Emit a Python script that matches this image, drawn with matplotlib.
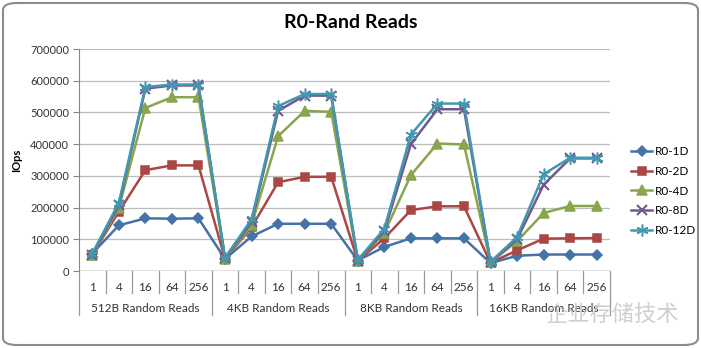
import numpy as np
import matplotlib.pyplot as plt
import matplotlib.transforms as mtransforms
from matplotlib.patches import FancyBboxPatch

plt.rcParams['font.family'] = ['Lato', 'DejaVu Sans']

groups = ["512B Random Reads", "4KB Random Reads", "8KB Random Reads", "16KB Random Reads"]
depths = ["1", "4", "16", "64", "256"]

r0_1d = [55000, 144000, 166000, 165000, 166000,
         38000, 109000, 149000, 149000, 149000,
         33000, 76000, 103000, 103000, 103000,
         25000, 48000, 52000, 52000, 52000]
r0_2d = [52000, 187000, 318000, 333000, 333000,
         38000, 138000, 280000, 297000, 297000,
         32000, 103000, 192000, 204000, 204000,
         26000, 65000, 102000, 103000, 104000]
r0_4d = [50000, 199000, 514000, 548000, 548000,
         38000, 145000, 425000, 505000, 502000,
         32000, 120000, 302000, 402000, 399000,
         27000, 94000, 183000, 205000, 205000]
r0_8d = [52000, 207000, 575000, 585000, 585000,
         40000, 155000, 505000, 553000, 553000,
         33000, 125000, 400000, 510000, 510000,
         27000, 100000, 272000, 355000, 355000]
r0_12d = [55000, 215000, 580000, 588000, 588000,
          42000, 163000, 520000, 558000, 558000,
          35000, 133000, 430000, 528000, 528000,
          29000, 107000, 305000, 357000, 357000]

series = [("R0-1D", r0_1d, "#4572A7", "D", 5.5),
          ("R0-2D", r0_2d, "#AA4643", "s", 6),
          ("R0-4D", r0_4d, "#89A54E", "^", 6.5),
          ("R0-8D", r0_8d, "#71588F", "x", 6.5),
          ("R0-12D", r0_12d, "#4198AF", (6, 2, 0), 8.5)]

fig = plt.figure(figsize=(7.01, 3.48), dpi=100)
W, H = 701, 348
ax = fig.add_axes([79 / W, 1 - 271 / H, (610 - 79) / W, (271 - 49) / H])

x = np.arange(len(r0_1d))
for name, vals, col, mk, ms in series:
    ax.plot(x, vals, color=col, lw=1.8, marker=mk, ms=ms, mew=1.5 if mk == "x" else 1.1,
            mec=col, mfc=col, label=name, clip_on=False)

ax.set_xlim(-0.5, len(x) - 0.5)
ax.set_ylim(0, 700000)
ax.set_yticks(np.arange(0, 700001, 100000))
ax.tick_params(axis='y', labelsize=8, length=4, color="#888888", pad=3, colors="#333333")
ax.yaxis.grid(True, color="#bcbcbc", lw=0.9)
ax.set_axisbelow(True)
for s in ["top", "right", "bottom"]:
    ax.spines[s].set_visible(False)
ax.spines["left"].set_color("#888888")
ax.axhline(0, color="#888888", lw=1, zorder=1)

ax.set_xticks([])
trans = mtransforms.blended_transform_factory(ax.transData, ax.transAxes)
for i in range(len(x)):
    ax.text(i, -0.075, depths[i % 5], transform=trans, ha="center", va="center",
            fontsize=8.5, color="#333333")
for k in range(len(x) + 1):
    bottom = -0.2 if k % 5 == 0 else -0.1
    ax.plot([k - 0.5, k - 0.5], [0, bottom], transform=trans, color="#999999",
            lw=0.9, clip_on=False)
for g, name in enumerate(groups):
    ax.text(g * 5 + 2, -0.17, name, transform=trans, ha="center", va="center",
            fontsize=8.5, color="#333333")

ax.set_ylabel("IOps", fontsize=8, fontweight="bold")
ax.yaxis.set_label_coords(-0.108, 0.5)

fig.text(351 / W, 1 - 23 / H, "R0-Rand Reads", ha="center", va="center",
         fontsize=14, fontweight="bold")

ax.legend(loc="upper left", bbox_to_anchor=(625 / W, 1 - 140 / H), bbox_transform=fig.transFigure,
          frameon=False, fontsize=8.5, handlelength=1.8, handletextpad=0.2,
          labelspacing=0.75, borderpad=0)

fig.patches.append(FancyBboxPatch((3 / W, 3 / H), 695 / W, 342 / H,
                                  boxstyle="round,pad=0,rounding_size=0.02",
                                  transform=fig.transFigure, fill=False,
                                  edgecolor="#8c8c8c", lw=1.5))

# watermark overlaid on the last group label, as in the source image
fig.text(612 / W, 1 - 314 / H, "企业存储技术", ha="center", va="center",
         fontsize=16, color="#c4c4c4", alpha=0.8,
         family=["Noto Sans CJK SC", "DejaVu Sans"])

fig.savefig("out.png", dpi=100)
